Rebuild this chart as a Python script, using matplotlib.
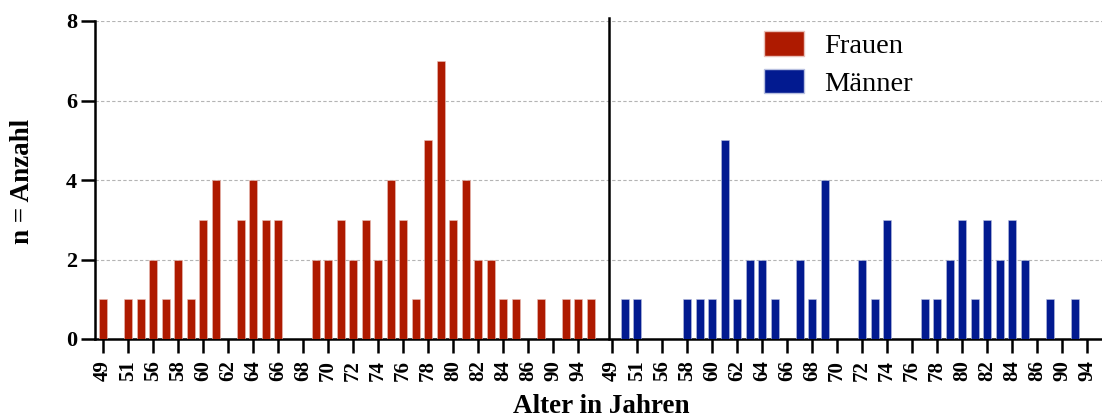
import numpy as np
import matplotlib
matplotlib.use("Agg")
import matplotlib.pyplot as plt
from matplotlib.patches import Patch

# Age classes (one label every second bar) and counts per bar slot
age_labels = ["49", "51", "56", "58", "60", "62", "64", "66", "68", "70",
              "72", "74", "76", "78", "80", "82", "84", "86", "90", "94"]

frauen = [1, 0, 1, 1, 2, 1, 2, 1, 3, 4,
          0, 3, 4, 3, 3, 0, 0, 2, 2, 3,
          2, 3, 2, 4, 3, 1, 5, 7, 3, 4,
          2, 2, 1, 1, 0, 1, 0, 1, 1, 1]

maenner = [0, 1, 1, 0, 0, 0, 1, 1, 1, 5,
           1, 2, 2, 1, 0, 2, 1, 4, 0, 0,
           2, 1, 3, 0, 0, 1, 1, 2, 3, 1,
           3, 2, 3, 2, 0, 1, 0, 1, 0, 0]

series_names = ["Frauen", "Männer"]
colors = ["#AE1A00", "#021A90"]

plt.rcParams["font.family"] = ["Liberation Serif", "DejaVu Serif"]

W, H = 1102, 418
fig = plt.figure(figsize=(W / 100, H / 100), dpi=100)
ax = fig.add_axes([95 / W, 1 - 339 / H, 1 - 95 / W, (339 - 21) / H])

group_offset = 40.72   # start of the second panel in slot units
separator = 40.48
bar_w = 0.64

x_f = np.arange(len(frauen))
x_m = np.arange(len(maenner)) + group_offset

ax.bar(x_f, frauen, width=bar_w, color=colors[0], edgecolor="#e8c0b8", linewidth=0.4, zorder=3)
ax.bar(x_m, maenner, width=bar_w, color=colors[1], edgecolor="#b8c0e0", linewidth=0.4, zorder=3)

# Tick positions: every second slot in each panel
tick_pos = list(np.arange(0, 40, 2)) + list(np.arange(0, 40, 2) + group_offset)
ax.set_xticks(tick_pos)
ax.set_xticklabels(age_labels + age_labels, rotation=90, fontweight="bold", fontsize=15)

ax.set_xlim(-0.64, 79.92)
ax.set_ylim(0, 8)
ax.set_yticks([0, 2, 4, 6, 8])
ax.set_yticklabels(["0", "2", "4", "6", "8"], fontweight="bold", fontsize=16)

ax.tick_params(axis="x", length=10, width=1.8, pad=5, direction="out")
ax.tick_params(axis="y", length=10, width=1.8, pad=3, direction="out")

for s in ["top", "right"]:
    ax.spines[s].set_visible(False)
for s in ["left", "bottom"]:
    ax.spines[s].set_linewidth(1.8)

ax.yaxis.grid(True, linestyle=(0, (3, 2)), color="#b4b4b4", linewidth=0.8)
ax.set_axisbelow(True)

# Separator between the two panels
ax.axvline(separator, ymin=0, ymax=1.01, color="black", linewidth=1.8, clip_on=False, zorder=4)

fig.text(601 / W, 1 - 413 / H, "Alter in Jahren", ha="center", va="baseline",
         fontsize=19.5, fontweight="bold")
fig.text(23 / W, 1 - 181 / H, "n = Anzahl", ha="center", va="center", rotation=90,
         fontsize=19.5, fontweight="bold")

handles = [Patch(facecolor=colors[0], edgecolor="#e8c0b8"),
           Patch(facecolor=colors[1], edgecolor="#b8c0e0")]
ax.legend(handles, series_names, loc="upper left", bbox_to_anchor=(0.645, 1.03),
          frameon=False, fontsize=20.5, handlelength=1.4, handleheight=0.95,
          handletextpad=0.7, labelspacing=0.33, borderaxespad=0.3)

fig.savefig("out.png", dpi=100)
